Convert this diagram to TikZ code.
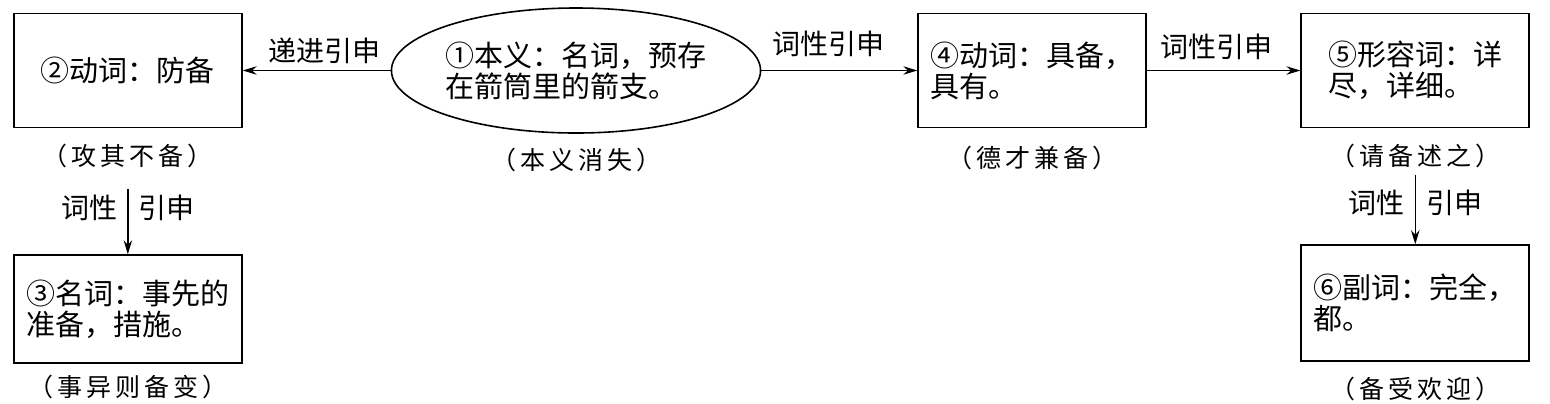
\documentclass[tikz,border=0pt]{standalone}
\usepackage{fontspec}
\setmainfont{Noto Sans CJK SC}
\usetikzlibrary{arrows.meta,positioning,shapes.geometric}

\begin{document}
\begin{tikzpicture}[font=\fontsize{14.5}{15.5}\selectfont,
  bx/.style={draw, line width=0.8pt, inner sep=0pt, minimum width=114pt,
             minimum height=57pt, align=left},
  ov/.style={draw, ellipse, line width=0.8pt, inner sep=0pt,
             minimum width=176pt, minimum height=62.5pt, align=left},
  cp/.style={inner sep=0pt,
             font=\fontsize{12.5}{13}\selectfont\addfontfeature{LetterSpace=16}},
  lb/.style={inner sep=0pt, font=\fontsize{14}{14}\selectfont},
  a/.style={-{Stealth[length=7pt,width=4.2pt]}, line width=0.75pt}]
\useasboundingbox (0,0) rectangle (775pt,-201.5pt);

\node[ov] (benyi) at (288pt,-35.25pt) {①本义：名词，预存\\在箭筒里的箭支。};
\node[bx, left=74pt of benyi] (fangbei) {②动词：防备};
\node[bx, right=78pt of benyi] (jubei) {④动词：具备，\\具有。};
\node[bx, right=76.75pt of jubei] (xiangjin) {⑤形容词：详\\尽，详细。};
\node[bx, minimum height=54pt, below=63pt of fangbei] (cuoshi)
  {③名词：事先的\\准备，措施。};
\node[bx, minimum height=58pt, below=58pt of xiangjin] (wanquan)
  {⑥副词：完全，\\都。};

% captions under the boxes
\node[cp, below=7.5pt of fangbei] (gongqi) {（攻其不备）};
\node[cp, below=7pt of benyi] (xiaoshi) {（本义消失）};
\node[cp, below=8.5pt of jubei] (decai) {（德才兼备）};
\node[cp, below=7.5pt of xiangjin] (qingbei) {（请备述之）};
\node[cp, below=5.5pt of cuoshi] (shiyi) {（事异则备变）};
\node[cp, below=7.5pt of wanquan] (beishou) {（备受欢迎）};

\draw[a] (benyi) -- node[lb, pos=0.45, above=3pt] {递进引申} (fangbei);
\draw[a] (benyi) -- node[lb, pos=0.43, above=6.5pt] {词性引申} (jubei);
\draw[a] (jubei) -- node[lb, pos=0.45, above=5pt] {词性引申} (xiangjin);
\draw[a, shorten <=10.5pt] (gongqi.south -| cuoshi.north) --
  node[lb, pos=0.46, left=5pt] {词性} node[lb, pos=0.46, right=5pt] {引申}
  (cuoshi.north);
\draw[a, shorten <=3.5pt] (qingbei.south -| wanquan.north) --
  node[lb, pos=0.46, left=5pt] {词性} node[lb, pos=0.46, right=5pt] {引申}
  (wanquan.north);
\end{tikzpicture}
\end{document}
